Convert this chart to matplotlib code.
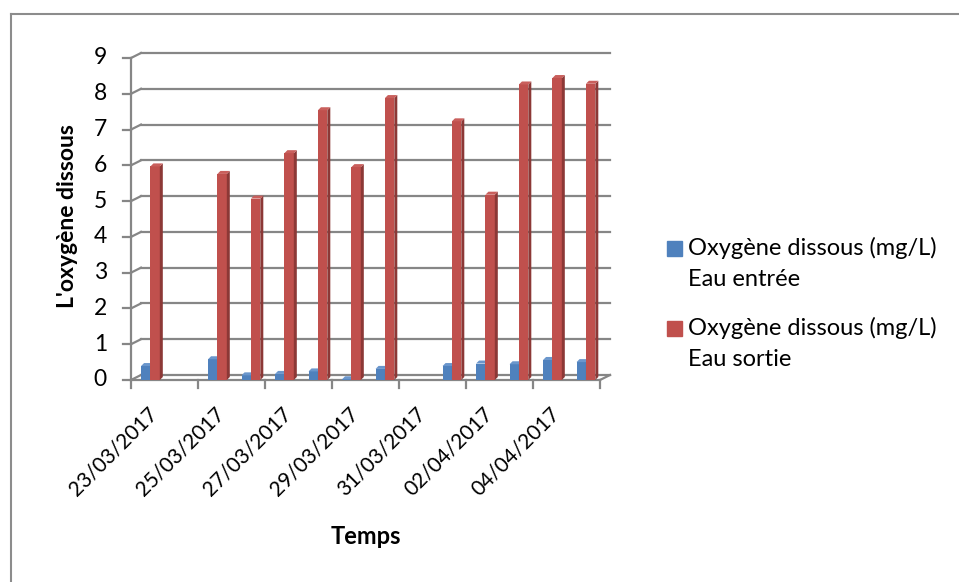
import numpy as np
import matplotlib.pyplot as plt
from matplotlib.patches import Rectangle

plt.rcParams['font.family'] = ['Lato', 'DejaVu Sans']

jours = ['23/03/2017', '24/03/2017', '25/03/2017', '26/03/2017', '27/03/2017',
         '28/03/2017', '29/03/2017', '30/03/2017', '31/03/2017', '01/04/2017',
         '02/04/2017', '03/04/2017', '04/04/2017', '05/04/2017']
o2_entree = [0.39, np.nan, 0.58, 0.13, 0.17, 0.24, 0.02, 0.31, np.nan, 0.39,
             0.46, 0.44, 0.56, 0.50]
o2_sortie = [5.97, np.nan, 5.76, 5.07, 6.34, 7.54, 5.95, 7.88, np.nan, 7.23,
             5.18, 8.26, 8.44, 8.28]
noms = ['Oxygène dissous (mg/L)\nEau entrée', 'Oxygène dissous (mg/L)\nEau sortie']

W, H = 959, 582
fig = plt.figure(figsize=(W / 100, H / 100), dpi=100)

# plot area (front plane) in pixels
x0, x1, y0, y1 = 131, 600, 380, 58
ax = fig.add_axes([x0 / W, 1 - y0 / H, (x1 - x0) / W, (y0 - y1) / H])
n = len(jours)
ax.set_xlim(0, n)
ax.set_ylim(0, 9)
ax.axis('off')

ppx = (x1 - x0) / n     # pixels per day
ppy = (y0 - y1) / 9     # pixels per mg/L
wx, wy = 10 / ppx, 5 / ppy   # back wall offset
dx, dy = 3 / ppx, 3 / ppy    # bar depth
grid = '#868686'

# back wall gridlines + left wall diagonals
for v in range(10):
    ax.plot([wx, n + wx], [v + wy, v + wy], color=grid, lw=1.6, clip_on=False)
    ax.plot([0, wx], [v, v + wy], color=grid, lw=1.6, clip_on=False)
    ax.plot([0, -8 / ppx], [v, v], color=grid, lw=1.6, clip_on=False)
    ax.text(-24 / ppx, v, str(v), ha='right', va='center', fontsize=16.5)
# floor
ax.plot([0, n], [0, 0], color=grid, lw=1.6, clip_on=False)
ax.plot([n, n + wx], [0, wy], color=grid, lw=1.6, clip_on=False)
ax.plot([0, 0], [0, 9], color=grid, lw=1.6, clip_on=False)
for k in range(0, n + 1, 2):
    ax.plot([k, k], [0, -8 / ppy], color=grid, lw=1.6, clip_on=False)

x = np.arange(n)
series = [(o2_entree, 0.30, '#4F81BD', '#3A6591', '#6A96CC'),
          (o2_sortie, 0.58, '#C0504D', '#8C3836', '#C95F5C')]
bw = 0.28
for vals, off, c, cs, ct in series:
    ax.bar(x + off, vals, width=bw, align='edge', color=c, lw=0, clip_on=False, zorder=3)
    for i, v in enumerate(vals):
        if np.isnan(v):
            continue
        a, b = i + off, i + off + bw
        ax.fill([b, b + dx, b + dx, b], [0, dy, v + dy, v], color=cs, lw=0, zorder=3, clip_on=False)
        ax.fill([a, b, b + dx, a + dx], [v, v, v + dy, v + dy], color=ct, lw=0, zorder=3, clip_on=False)

for k in range(0, n, 2):
    ax.annotate(jours[k], xy=(k + 0.7, 0), xytext=(0, -31), textcoords='offset pixels',
                rotation=45, rotation_mode='anchor', ha='right', va='center', fontsize=15)

fig.text(67 / W, 1 - 216 / H, "L'oxygène dissous", rotation=90, ha='center', va='center',
         fontsize=16.5, fontweight='bold')
fig.text(366 / W, 1 - 537 / H, 'Temps', ha='center', va='center', fontsize=17, fontweight='bold')

# legend
for j, (nom, col) in enumerate(zip(noms, ['#4F81BD', '#C0504D'])):
    yt = 248 + 80 * j
    fig.patches.append(Rectangle((667 / W, 1 - (yt + 8) / H), 15 / W, 15 / H,
                                 transform=fig.transFigure, color=col))
    l1, l2 = nom.split('\n')
    fig.text(688 / W, 1 - yt / H, l1, ha='left', va='center', fontsize=17)
    fig.text(688 / W, 1 - (yt + 31) / H, l2, ha='left', va='center', fontsize=17)

# chart border (only left and top visible)
fig.add_artist(plt.Line2D([11 / W, 11 / W], [0, 1 - 14 / H], color='#8c8c8c', lw=1.5))
fig.add_artist(plt.Line2D([11 / W, 1], [1 - 14 / H, 1 - 14 / H], color='#8c8c8c', lw=1.5))

fig.savefig('out.png', dpi=100)
